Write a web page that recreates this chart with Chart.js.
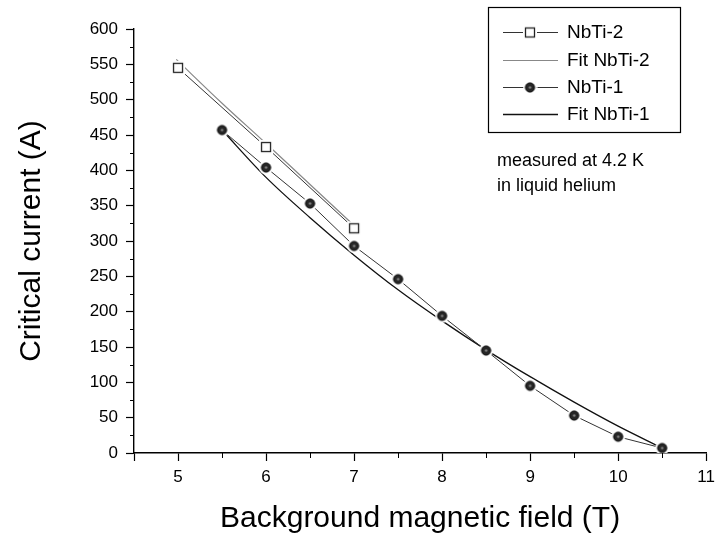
<!DOCTYPE html>
<html>
<head>
<meta charset="utf-8">
<title>Critical current vs background field</title>
<script src="https://cdn.jsdelivr.net/npm/chart.js@4.4.1/dist/chart.umd.min.js"></script>
<style>
  html, body { margin: 0; padding: 0; background: #fff; }
</style>
</head>
<body>
<canvas id="chart" width="721" height="540"></canvas>
<script>
// measured points
const nbti2Field = [5, 6, 7];
const nbti2Current = [545, 433, 318];
const nbti1Field = [5.5, 6, 6.5, 7, 7.5, 8, 8.5, 9, 9.5, 10, 10.5];
const nbti1Current = [457, 404, 353, 293, 246, 194, 145, 95, 53, 23, 7];

// fit curves
const fit2Field = [4.98, 5.5, 6, 6.5, 7];
const fit2Current = [557, 495, 438, 380, 322];
const fit1Field = [5.5, 6, 6.5, 7, 7.5, 8, 8.5, 9, 9.5, 10, 10.5];
const fit1Current = [457, 390, 333, 280, 231, 187, 146, 108, 72, 38, 7];

// axis ticks
const fieldTicks = [4.5, 5, 6, 7, 8, 9, 10, 11];
const seriesLabels = ['NbTi-2', 'Fit NbTi-2', 'NbTi-1', 'Fit NbTi-1'];
const noteLines = ['measured at 4.2 K', 'in liquid helium'];

const FONT = '"Liberation Sans", Arial, Helvetica, sans-serif';

function pts(xs, ys) {
  return xs.map((x, i) => ({ x: x, y: ys[i] }));
}

// markers with a white halo so the joining line stops short of them
function circleMarker() {
  const c = document.createElement('canvas');
  c.width = 15; c.height = 15;
  const g = c.getContext('2d');
  g.fillStyle = '#fff';
  g.beginPath(); g.arc(7.5, 7.5, 7, 0, Math.PI * 2); g.fill();
  g.fillStyle = '#262626';
  g.beginPath(); g.arc(7.5, 7.5, 4.6, 0, Math.PI * 2); g.fill();
  g.strokeStyle = '#000'; g.lineWidth = 1; g.stroke();
  g.fillStyle = '#8a8a8a';
  g.beginPath(); g.arc(7.5, 7.5, 1.2, 0, Math.PI * 2); g.fill();
  return c;
}
function squareMarker() {
  const c = document.createElement('canvas');
  c.width = 16; c.height = 16;
  const g = c.getContext('2d');
  g.fillStyle = '#fff';
  g.fillRect(1, 1, 14, 14);
  g.strokeStyle = '#222'; g.lineWidth = 1.3;
  g.strokeRect(3.5, 3.5, 9, 9);
  return c;
}
const circleImg = circleMarker();
const squareImg = squareMarker();

const minorTicks = {
  id: 'minorTicks',
  afterDraw(chart) {
    const ctx = chart.ctx, xs = chart.scales.x, ys = chart.scales.y;
    const area = chart.chartArea;
    ctx.save();
    ctx.strokeStyle = '#000';
    ctx.lineWidth = 1;
    ctx.beginPath();
    for (let v = 5.5; v < 11; v += 1) {
      const px = Math.round(xs.getPixelForValue(v)) + 0.5;
      ctx.moveTo(px, area.bottom); ctx.lineTo(px, area.bottom + 5);
    }
    for (let v = 25; v < 600; v += 50) {
      const py = Math.round(ys.getPixelForValue(v)) + 0.5;
      ctx.moveTo(area.left, py); ctx.lineTo(area.left - 4, py);
    }
    ctx.stroke();
    ctx.restore();
  }
};

const legendBox = {
  id: 'legendBox',
  afterDraw(chart) {
    const ctx = chart.ctx;
    const ds = chart.data.datasets;
    ctx.save();
    ctx.strokeStyle = '#000';
    ctx.lineWidth = 1.2;
    ctx.strokeRect(488.5, 7.5, 192, 125);
    const rows = [32, 60, 87, 114];
    ctx.font = '19px ' + FONT;
    ctx.textBaseline = 'middle';
    ctx.fillStyle = '#000';
    ds.forEach((d, i) => {
      const y = rows[i] + 0.5;
      ctx.strokeStyle = d.borderColor;
      ctx.lineWidth = d.borderWidth;
      ctx.beginPath(); ctx.moveTo(503, y); ctx.lineTo(558, y); ctx.stroke();
      if (d.pointStyle instanceof HTMLCanvasElement) {
        const img = d.pointStyle;
        ctx.drawImage(img, 530 - img.width / 2, y - img.height / 2);
      }
      ctx.fillText(d.label, 567, rows[i] + 1);
    });
    ctx.font = '18px ' + FONT;
    ctx.fillText(noteLines[0], 497, 161);
    ctx.fillText(noteLines[1], 497, 186);
    ctx.restore();
  }
};

new Chart(document.getElementById('chart'), {
  type: 'scatter',
  data: {
    datasets: [
      {
        label: seriesLabels[0],
        data: pts(nbti2Field, nbti2Current),
        showLine: true,
        borderColor: '#333',
        borderWidth: 1,
        pointStyle: squareImg,
        order: 0
      },
      {
        label: seriesLabels[1],
        data: pts(fit2Field, fit2Current),
        showLine: true,
        borderColor: '#888',
        borderWidth: 1.2,
        pointRadius: 0,
        cubicInterpolationMode: 'monotone',
        order: 2
      },
      {
        label: seriesLabels[2],
        data: pts(nbti1Field, nbti1Current),
        showLine: true,
        borderColor: '#333',
        borderWidth: 1,
        pointStyle: circleImg,
        order: 1
      },
      {
        label: seriesLabels[3],
        data: pts(fit1Field, fit1Current),
        showLine: true,
        borderColor: '#111',
        borderWidth: 1.3,
        pointRadius: 0,
        cubicInterpolationMode: 'monotone',
        order: 3
      }
    ]
  },
  options: {
    responsive: false,
    animation: false,
    events: [],
    layout: { autoPadding: false, padding: { top: 29, right: 11, left: 0, bottom: 0 } },
    plugins: {
      legend: { display: false },
      tooltip: { enabled: false }
    },
    scales: {
      x: {
        type: 'linear',
        min: 4.5,
        max: 11,
        afterBuildTicks: s => { s.ticks = fieldTicks.map(v => ({ value: v })); },
        ticks: {
          autoSkip: false,
          maxRotation: 0,
          padding: 6,
          color: '#000',
          font: { family: FONT, size: 17 },
          callback: v => Number.isInteger(v) ? v : ''
        },
        grid: { drawOnChartArea: false, tickLength: 8, tickColor: '#000', tickWidth: 1.2 },
        border: { color: '#000', width: 1.4 },
        title: {
          display: true,
          text: 'Background magnetic field (T)',
          color: '#000',
          font: { family: FONT, size: 30 },
          padding: { top: 0, bottom: 3 }
        },
        afterFit: s => { s.height = 87; }
      },
      y: {
        min: 0,
        max: 600,
        ticks: {
          stepSize: 50,
          padding: 8,
          color: '#000',
          font: { family: FONT, size: 17 }
        },
        grid: { drawOnChartArea: false, tickLength: 8, tickColor: '#000', tickWidth: 1.2 },
        border: { color: '#000', width: 1.4 },
        title: {
          display: true,
          text: 'Critical current (A)',
          color: '#000',
          font: { family: FONT, size: 30 },
          padding: { top: 14, bottom: 0 }
        },
        afterFit: s => { s.width = 134; }
      }
    }
  },
  plugins: [minorTicks, legendBox]
});
</script>
</body>
</html>
